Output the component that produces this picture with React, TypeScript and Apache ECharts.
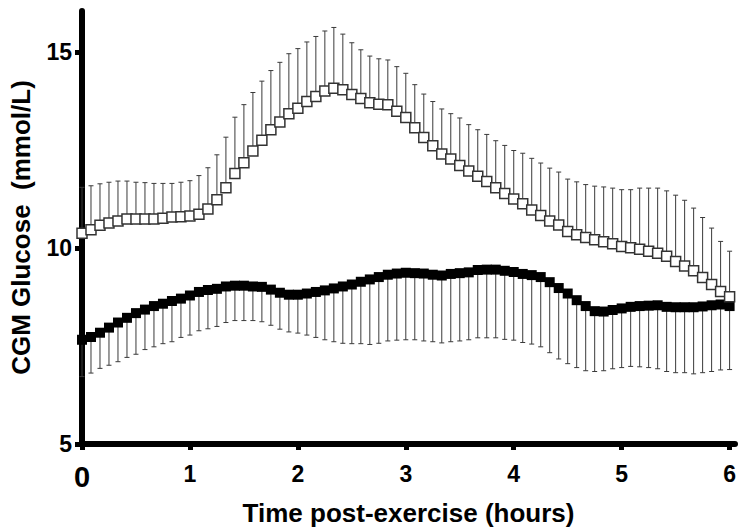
import React, { useEffect, useRef } from "react";
import * as echarts from "echarts";

const timeMinutes = [
  0, 5, 10, 15, 20, 25, 30, 35, 40, 45, 50, 55,
  60, 65, 70, 75, 80, 85, 90, 95, 100, 105, 110, 115,
  120, 125, 130, 135, 140, 145, 150, 155, 160, 165, 170, 175,
  180, 185, 190, 195, 200, 205, 210, 215, 220, 225, 230, 235,
  240, 245, 250, 255, 260, 265, 270, 275, 280, 285, 290, 295,
  300, 305, 310, 315, 320, 325, 330, 335, 340, 345, 350, 355,
  360,
];

// open squares (upper group): mean and top of error bar
const openMean = [
  10.38, 10.47, 10.58, 10.64, 10.69, 10.74, 10.74, 10.74, 10.74, 10.76, 10.79, 10.8,
  10.82, 10.86, 11.0, 11.23, 11.54, 11.9, 12.18, 12.48, 12.75, 13.02, 13.22, 13.43,
  13.57, 13.74, 13.87, 14.01, 14.08, 14.04, 13.92, 13.82, 13.71, 13.67, 13.66, 13.49,
  13.33, 13.07, 12.82, 12.61, 12.4, 12.27, 12.11, 11.97, 11.83, 11.7, 11.54, 11.39,
  11.25, 11.13, 10.97, 10.83, 10.69, 10.59, 10.42, 10.34, 10.27, 10.21, 10.16, 10.11,
  10.04, 10.01, 9.97, 9.92, 9.87, 9.79, 9.66, 9.54, 9.42, 9.25, 9.07, 8.89,
  8.76,
];
const openErrTop = [
  11.55, 11.59, 11.64, 11.68, 11.71, 11.71, 11.68, 11.67, 11.65, 11.65, 11.65, 11.68,
  11.72, 11.85, 12.05, 12.38, 12.83, 13.34, 13.66, 13.97, 14.26, 14.53, 14.74, 14.96,
  15.09, 15.26, 15.4, 15.54, 15.63, 15.46, 15.24, 15.06, 14.9, 14.83, 14.8, 14.63,
  14.46, 14.17, 13.93, 13.74, 13.55, 13.43, 13.32, 13.15, 13.02, 12.9, 12.74, 12.62,
  12.49, 12.42, 12.29, 12.17, 12.04, 11.94, 11.76, 11.69, 11.62, 11.58, 11.56, 11.53,
  11.49, 11.49, 11.53, 11.53, 11.53, 11.46, 11.35, 11.22, 11.02, 10.78, 10.51, 10.17,
  9.92,
];

// filled squares (lower group): mean and bottom of error bar
const filledMean = [
  7.66, 7.73, 7.84, 7.97, 8.1, 8.22, 8.34, 8.43, 8.52, 8.58, 8.65, 8.71,
  8.79, 8.88, 8.93, 8.96, 9.02, 9.04, 9.04, 9.02, 9.01, 8.94, 8.86, 8.81,
  8.81, 8.84, 8.88, 8.92, 8.97, 9.02, 9.07, 9.14, 9.2, 9.26, 9.32, 9.35,
  9.37, 9.36, 9.35, 9.32, 9.3, 9.34, 9.36, 9.38, 9.44, 9.45, 9.45, 9.42,
  9.39, 9.34, 9.31, 9.26, 9.13, 8.98, 8.84, 8.67, 8.52, 8.39, 8.38, 8.42,
  8.46, 8.5, 8.52, 8.53, 8.54, 8.5, 8.49, 8.49, 8.49, 8.51, 8.54, 8.56,
  8.52,
];
const filledErrBottom = [
  6.72, 6.81, 6.93, 7.01, 7.1, 7.21, 7.29, 7.41, 7.48, 7.56, 7.61, 7.72,
  7.78, 7.89, 7.94, 8.0, 8.1, 8.15, 8.15, 8.15, 8.12, 8.03, 7.93, 7.86,
  7.83, 7.78, 7.72, 7.66, 7.61, 7.57, 7.56, 7.56, 7.54, 7.57, 7.63, 7.65,
  7.66, 7.66, 7.63, 7.61, 7.58, 7.61, 7.63, 7.66, 7.71, 7.71, 7.71, 7.67,
  7.65, 7.59, 7.55, 7.48, 7.33, 7.17, 7.05, 6.95, 6.87, 6.85, 6.87, 6.92,
  6.95, 6.98, 6.97, 6.95, 6.92, 6.85, 6.82, 6.82, 6.79, 6.82, 6.85, 6.89,
  6.9,
];

const xTicks = [0, 1, 2, 3, 4, 5, 6];
const yTicks = [5, 10, 15];

const FONT = "'Liberation Sans', Arial, sans-serif";

function errRender(params: any, api: any) {
  const x = api.value(0);
  const p0 = api.coord([x, api.value(1)]);
  const p1 = api.coord([x, api.value(2)]);
  const stroke = "#3a3a3a";
  return {
    type: "group",
    children: [
      {
        type: "line",
        shape: { x1: p0[0], y1: p0[1], x2: p1[0], y2: p1[1] },
        style: { stroke, lineWidth: 1 },
      },
      {
        type: "line",
        shape: { x1: p1[0] - 2.5, y1: p1[1], x2: p1[0] + 2.5, y2: p1[1] },
        style: { stroke, lineWidth: 1 },
      },
    ],
  };
}

export default function App() {
  const ref = useRef<HTMLDivElement>(null);
  useEffect(() => {
    if (!ref.current) return;
    const chart = echarts.init(ref.current, null, { renderer: "svg" });
    const hours = timeMinutes.map((m) => m / 60);
    const openErr = hours.map((h, i) => [h, openMean[i], openErrTop[i]]);
    const filledErr = hours.map((h, i) => [h, filledMean[i], filledErrBottom[i]]);
    const openPts = hours.map((h, i) => [h, openMean[i]]);
    const filledPts = hours.map((h, i) => [h, filledMean[i]]);

    chart.setOption({
      animation: false,
      backgroundColor: "#fff",
      grid: { left: 82, right: 8, top: 11, bottom: 84, containLabel: false },
      xAxis: {
        type: "value",
        min: 0,
        max: 6.05,
        interval: 1,
        splitLine: { show: false },
        axisLine: { show: true, onZero: false, lineStyle: { color: "#000", width: 6 } },
        axisTick: { show: true, customValues: xTicks, length: 6, lineStyle: { color: "#000", width: 5 } },
        axisLabel: {
          customValues: xTicks,
          margin: 18,
          color: "#000",
          fontFamily: FONT,
          fontWeight: "bold",
          fontSize: 23,
          formatter: (v: number) => (v === 0 ? "{big|0}" : String(v)),
          rich: { big: { fontSize: 29, fontWeight: "bold", fontFamily: FONT, color: "#000" } },
        },
        name: "Time post-exercise (hours)",
        nameLocation: "middle",
        nameGap: 56,
        nameTextStyle: { color: "#000", fontFamily: FONT, fontWeight: "bold", fontSize: 26 },
      },
      yAxis: {
        type: "value",
        min: 5,
        max: 16.05,
        interval: 5,
        splitLine: { show: false },
        axisLine: { show: true, onZero: false, lineStyle: { color: "#000", width: 6 } },
        axisTick: { show: true, customValues: yTicks, length: 7, lineStyle: { color: "#000", width: 5 } },
        axisLabel: {
          customValues: yTicks,
          margin: 10,
          color: "#000",
          fontFamily: FONT,
          fontWeight: "bold",
          fontSize: 23,
        },
        name: "CGM Glucose  (mmol/L)",
        nameLocation: "middle",
        nameGap: 48,
        nameTextStyle: { color: "#000", fontFamily: FONT, fontWeight: "bold", fontSize: 26 },
      },
      series: [
        {
          type: "custom",
          renderItem: errRender,
          data: filledErr,
          encode: { x: 0, y: [1, 2] },
          silent: true,
          clip: false,
        },
        {
          type: "scatter",
          data: filledPts,
          symbol: "rect",
          symbolSize: 10,
          itemStyle: { color: "#000", opacity: 1 },
          silent: true,
        },
        {
          type: "custom",
          renderItem: errRender,
          data: openErr,
          encode: { x: 0, y: [1, 2] },
          silent: true,
          clip: false,
        },
        {
          type: "scatter",
          data: openPts,
          symbol: "rect",
          symbolSize: 10,
          itemStyle: { color: "#fff", borderColor: "#333", borderWidth: 1.5, opacity: 1 },
          silent: true,
        },
      ],
    });
    return () => chart.dispose();
  }, []);
  return (
    <div
      ref={ref}
      style={{ position: "absolute", left: 0, top: 0, width: 743, height: 531, background: "#fff" }}
    />
  );
}
